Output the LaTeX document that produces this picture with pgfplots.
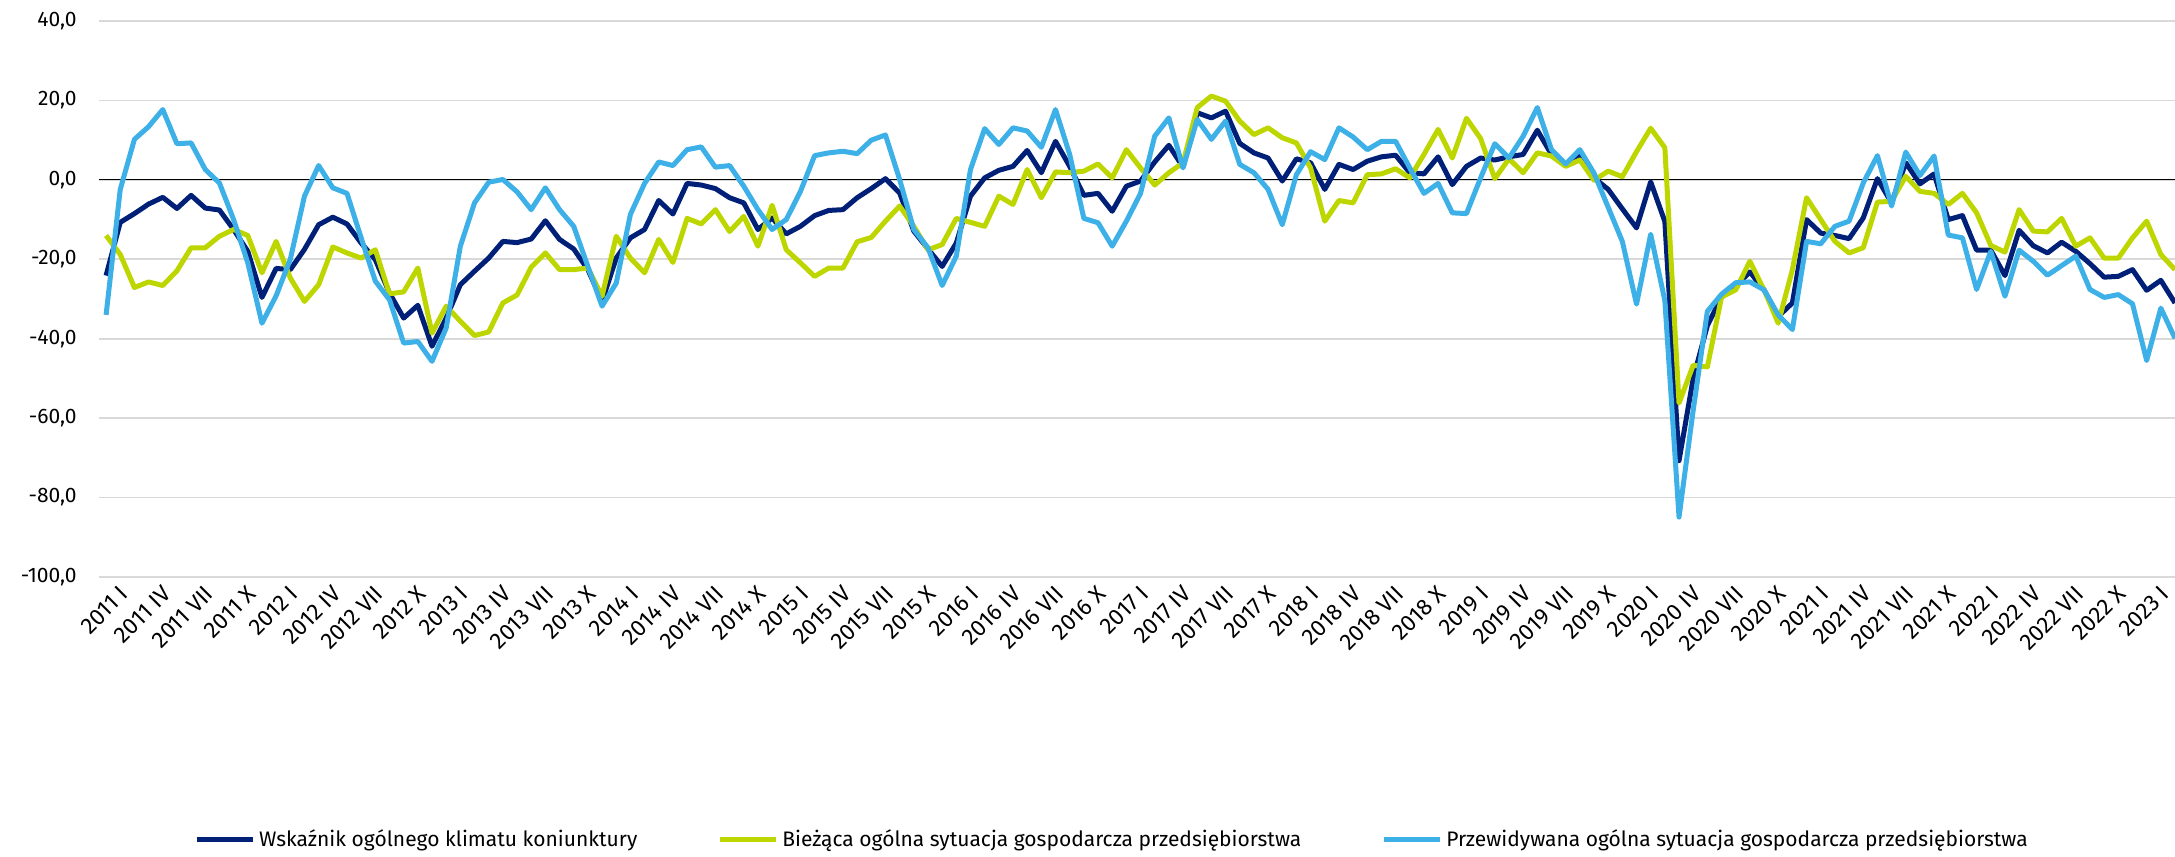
\documentclass[border=0pt]{standalone}
\usepackage{fontspec}
\setmainfont{Fira Sans}
\usepackage{pgfplots}
\usepackage{pgfplotstable}
\pgfplotsset{compat=1.18}
\definecolor{cDark}{RGB}{0,31,119}
\definecolor{cGreen}{RGB}{190,214,0}
\definecolor{cLight}{RGB}{62,176,232}
\definecolor{cGrid}{RGB}{217,217,217}
\pgfplotstableread{
i W B P
0 -24.1 -14.0 -34.0
1 -10.7 -18.8 -2.4
2 -8.5 -27.1 10.2
3 -6.1 -25.7 13.4
4 -4.4 -26.6 17.7
5 -7.2 -22.9 9.1
6 -3.9 -17.1 9.3
7 -7.1 -17.1 2.6
8 -7.6 -14.2 -0.8
9 -12.5 -12.5 -10.0
10 -18.0 -14.0 -20.9
11 -29.6 -23.4 -36.1
12 -22.3 -15.5 -29.2
13 -22.6 -24.7 -20.0
14 -17.5 -30.6 -4.1
15 -11.3 -26.4 3.6
16 -9.4 -16.9 -2.0
17 -11.1 -18.4 -3.4
18 -15.9 -19.7 -14.6
19 -20.1 -17.6 -25.5
20 -28.5 -28.7 -30.2
21 -34.8 -28.2 -41.1
22 -31.6 -22.2 -40.7
23 -41.9 -38.6 -45.7
24 -34.8 -31.8 -37.3
25 -26.4 -35.6 -16.7
26 -23.0 -39.2 -5.8
27 -19.7 -38.3 -0.6
28 -15.5 -31.0 0.1
29 -15.8 -29.0 -3.0
30 -14.9 -22.0 -7.5
31 -10.3 -18.4 -2.0
32 -15.0 -22.6 -7.5
33 -17.4 -22.6 -11.7
34 -22.6 -22.2 -21.8
35 -30.6 -29.3 -31.8
36 -19.7 -14.2 -26.0
37 -14.6 -19.7 -8.7
38 -12.5 -23.4 -0.9
39 -5.2 -15.0 4.5
40 -8.6 -20.8 3.6
41 -0.9 -9.7 7.6
42 -1.3 -11.1 8.3
43 -2.2 -7.5 3.2
44 -4.5 -13.0 3.6
45 -5.8 -9.2 -1.6
46 -12.5 -16.7 -7.5
47 -9.6 -6.4 -12.5
48 -13.6 -17.6 -10.0
49 -11.7 -20.9 -2.9
50 -9.0 -24.3 6.1
51 -7.7 -22.2 6.8
52 -7.5 -22.2 7.2
53 -4.5 -15.6 6.6
54 -2.2 -14.5 10.0
55 0.3 -10.4 11.3
56 -3.3 -6.6 0.1
57 -12.9 -11.7 -12.5
58 -17.4 -17.6 -17.1
59 -21.8 -16.3 -26.6
60 -15.9 -9.7 -19.2
61 -4.1 -10.7 2.6
62 0.5 -11.7 12.9
63 2.4 -4.1 8.9
64 3.4 -6.2 13.1
65 7.4 2.6 12.3
66 1.8 -4.5 8.2
67 9.7 2.0 17.7
68 3.4 1.8 6.4
69 -3.9 2.2 -9.7
70 -3.4 4.0 -10.8
71 -7.9 0.5 -16.7
72 -1.6 7.6 -10.4
73 -0.3 3.0 -3.4
74 4.5 -1.3 11.0
75 8.7 1.8 15.6
76 3.2 4.3 3.0
77 16.9 18.2 15.2
78 15.6 21.1 10.2
79 17.3 19.8 14.8
80 9.2 14.8 3.9
81 6.8 11.4 1.8
82 5.5 13.1 -2.4
83 -0.3 10.6 -11.3
84 5.3 9.3 1.3
85 4.3 3.0 7.1
86 -2.4 -10.4 5.1
87 3.9 -5.2 13.1
88 2.6 -5.8 10.8
89 4.7 1.3 7.6
90 5.8 1.5 9.7
91 6.2 2.8 9.7
92 1.8 0.5 3.0
93 1.5 6.4 -3.4
94 5.8 12.7 -0.9
95 -1.2 5.5 -8.3
96 3.4 15.5 -8.5
97 5.5 10.4 0.5
98 5.0 0.3 9.1
99 5.8 5.3 5.5
100 6.4 1.8 11.0
101 12.5 6.8 18.2
102 6.4 6.0 7.6
103 3.9 3.4 4.0
104 6.0 5.0 7.6
105 0.5 -0.1 1.7
106 -2.4 2.2 -6.9
107 -7.3 0.8 -15.5
108 -12.1 7.1 -31.3
109 -0.5 13.0 -13.7
110 -10.5 8.1 -30.4
111 -70.7 -56.2 -84.9
112 -50.0 -46.7 -58.0
113 -36.7 -47.1 -33.1
114 -29.5 -29.5 -28.8
115 -26.8 -27.7 -25.9
116 -23.2 -20.5 -25.7
117 -27.7 -27.7 -27.7
118 -34.4 -36.1 -34.0
119 -31.0 -22.6 -37.7
120 -10.0 -4.5 -15.5
121 -13.4 -10.0 -16.1
122 -14.0 -15.5 -11.7
123 -14.8 -18.4 -10.4
124 -9.6 -17.1 -0.8
125 0.3 -5.6 6.1
126 -5.8 -5.4 -6.6
127 4.3 0.9 7.0
128 -1.0 -2.9 1.1
129 1.5 -3.4 6.0
130 -10.0 -6.2 -13.9
131 -9.0 -3.4 -14.6
132 -17.7 -8.3 -27.6
133 -17.7 -16.5 -18.0
134 -24.1 -18.2 -29.3
135 -12.7 -7.5 -17.7
136 -16.6 -12.9 -20.5
137 -18.4 -13.1 -24.0
138 -15.7 -9.7 -21.6
139 -18.0 -16.7 -19.2
140 -21.1 -14.6 -27.6
141 -24.5 -19.7 -29.6
142 -24.3 -19.7 -28.9
143 -22.6 -14.6 -31.2
144 -27.8 -10.4 -45.5
145 -25.3 -18.8 -32.3
146 -31.0 -22.6 -39.9
}\datatable
\begin{document}
\begin{tikzpicture}
\path[use as bounding box] (-49.5pt,-140pt) rectangle (1038pt,288.5pt);
\begin{axis}[
  scale only axis,
  width=1038pt, height=278pt,
  xmin=-0.5, xmax=146,
  ymin=-100, ymax=40,
  ytick={-100,-80,-60,-40,-20,0,20,40},
  yticklabels={{-100,0},{-80,0},{-60,0},{-40,0},{-20,0},{0,0},{20,0},{40,0}},
  xtick={0,3,...,144},
  xticklabels={2011 I,2011 IV,2011 VII,2011 X,2012 I,2012 IV,2012 VII,2012 X,2013 I,2013 IV,2013 VII,2013 X,2014 I,2014 IV,2014 VII,2014 X,2015 I,2015 IV,2015 VII,2015 X,2016 I,2016 IV,2016 VII,2016 X,2017 I,2017 IV,2017 VII,2017 X,2018 I,2018 IV,2018 VII,2018 X,2019 I,2019 IV,2019 VII,2019 X,2020 I,2020 IV,2020 VII,2020 X,2021 I,2021 IV,2021 VII,2021 X,2022 I,2022 IV,2022 VII,2022 X,2023 I},
  major tick length=0pt,
  axis line style={draw=none},
  ymajorgrids,
  grid style={cGrid, line width=0.8pt},
  extra y ticks={0},
  extra y tick labels={},
  extra y tick style={grid style={black, line width=0.6pt}},
  tick label style={font=\fontsize{10.5}{12}\selectfont, text=black},
  yticklabel style={anchor=east, inner sep=0pt, xshift=-11pt},
  xticklabel style={rotate=45, anchor=east, inner sep=0pt, xshift=2pt, yshift=-11pt, font=\fontsize{11.5}{13}\selectfont},
  legend style={at={(0.4884,-0.472)}, anchor=center, draw=none, fill=none,
    legend columns=3, font=\fontsize{10.5}{12}\selectfont,
    /tikz/every even column/.append style={column sep=38pt}},
  legend image code/.code={\draw[#1, line width=2.5pt] (0pt,0pt) -- (28pt,0pt);},
  legend cell align=left,
]
\addplot[cDark, line width=2.5pt, line join=round] table[x=i, y=W] {\datatable};
\addlegendentry{Wskaźnik ogólnego klimatu koniunktury}
\addplot[cGreen, line width=2.5pt, line join=round] table[x=i, y=B] {\datatable};
\addlegendentry{Bieżąca ogólna sytuacja gospodarcza przedsiębiorstwa}
\addplot[cLight, line width=2.5pt, line join=round] table[x=i, y=P] {\datatable};
\addlegendentry{Przewidywana ogólna sytuacja gospodarcza przedsiębiorstwa}
\end{axis}
\end{tikzpicture}
\end{document}
